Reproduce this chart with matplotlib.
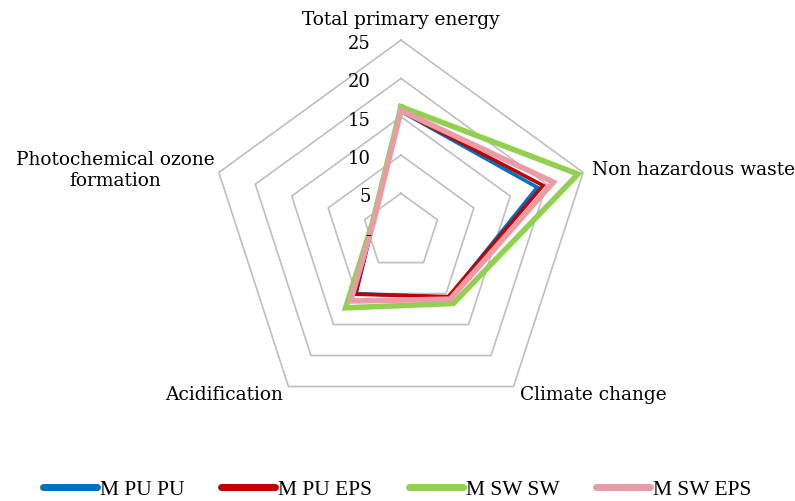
"""Radar chart: environmental indicators for four M variants."""
import numpy as np
import matplotlib
matplotlib.use("Agg")
import matplotlib.pyplot as plt

categories = ["Total primary energy", "Non hazardous waste", "Climate change",
              "Acidification", "Photochemical ozone\nformation"]
series_names = ["M PU PU", "M PU EPS", "M SW SW", "M SW EPS"]
m_pu_pu = [15.7, 18.7, 10.6, 10.0, 3.8]
m_pu_eps = [15.7, 19.5, 10.5, 10.1, 3.8]
m_sw_sw = [16.3, 24.3, 11.6, 12.3, 3.9]
m_sw_eps = [15.8, 20.9, 10.9, 11.2, 3.8]
r_ticks = [0, 5, 10, 15, 20, 25]
r_tick_labels = ["-", "5", "10", "15", "20", "25"]

colors = ["#0070C0", "#C00000", "#92D050", "#E89CA6"]
widths = [2.6, 2.6, 4.0, 4.0]
SERIF = "DejaVu Serif"

fig = plt.figure(figsize=(7.95, 5.02), dpi=100)
ax = fig.add_axes([0.2635, 0.1552, 0.4818, 0.7629], projection="polar")
ax.set_theta_offset(np.pi / 2)
ax.set_theta_direction(-1)
ax.set_ylim(0, 25)
ax.axis("off")

n = len(categories)
theta = np.linspace(0, 2 * np.pi, n, endpoint=False)
theta_c = np.append(theta, theta[0])

# pentagon gridlines
for r in r_ticks[1:]:
    ax.plot(theta_c, [r] * (n + 1), color="#BFBFBF", lw=1.2, zorder=1, clip_on=False)

# series
for name, vals, c, w in zip(series_names, [m_pu_pu, m_pu_eps, m_sw_sw, m_sw_eps], colors, widths):
    v = list(vals) + [vals[0]]
    ax.plot(theta_c, v, color=c, lw=w, label=name, solid_joinstyle="miter",
            zorder=3, clip_on=False)

# radial tick labels left of the top spoke
for r, lab in zip(r_ticks, r_tick_labels):
    ax.annotate(lab, xy=(0, r), xytext=(-30, -3), textcoords="offset pixels",
                ha="right", va="center", fontsize=13, family=SERIF)

# category labels
offsets = [((0, 21), "center", "center"), ((9, 3), "left", "center"),
           ((6, -7), "left", "center"), ((-5, -7), "right", "center"),
           ((-4, 3), "right", "center")]
for t, lab, (off, ha, va) in zip(theta, categories, offsets):
    ax.annotate(lab, xy=(t, 25), xytext=off, textcoords="offset pixels",
                ha=ha, va=va, fontsize=13.4, family=SERIF, multialignment="center",
                annotation_clip=False)

leg = fig.legend(loc="lower center", bbox_to_anchor=(0.5, -0.035), ncol=4, frameon=False,
                 handlelength=2.5, handletextpad=0.15, columnspacing=1.7,
                 prop={"family": "Liberation Serif", "size": 15.5})
for h in leg.legend_handles:
    h.set_linewidth(5)
    h.set_solid_capstyle("round")

fig.savefig("out.png", dpi=100)
